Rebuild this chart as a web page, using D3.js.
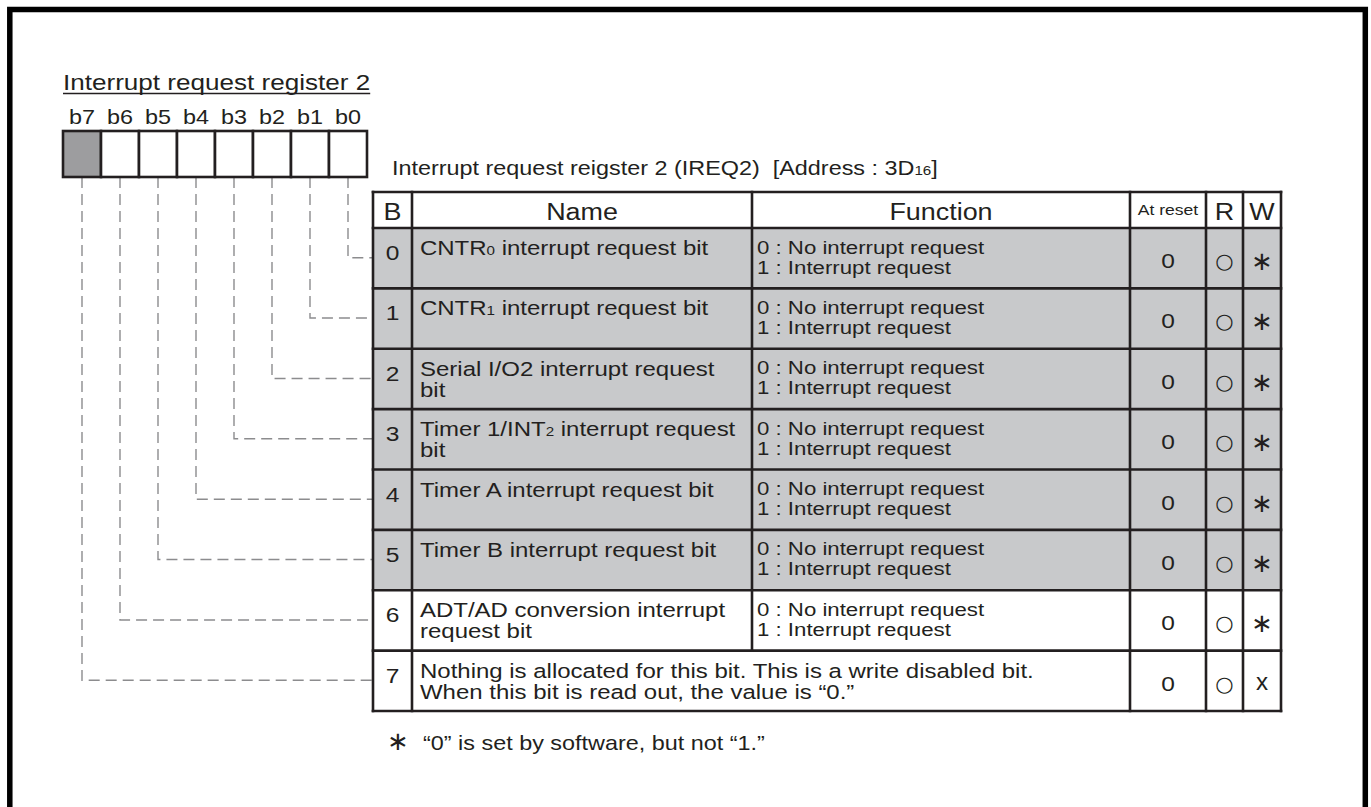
<!DOCTYPE html>
<html>
<head>
<meta charset="utf-8">
<script src="https://cdn.jsdelivr.net/npm/d3@7"></script>
<style>
  html, body { margin: 0; padding: 0; background: #fff; }
  svg { display: block; }
  text { font-family: "Liberation Sans", Arial, sans-serif; fill: #231f20; }
</style>
</head>
<body>
<script>
// ---------------- data ----------------
const registerTitle = "Interrupt request register 2";
const bitLabels = ["b7", "b6", "b5", "b4", "b3", "b2", "b1", "b0"];
const unusedBits = ["b7"];
const tableTitle = "Interrupt request reigster 2 (IREQ2)";
const tableAddress = "[Address : 3D";
const tableAddressSub = "16";
const headers = ["B", "Name", "Function", "At reset", "R", "W"];
const bitNumbers = ["0", "1", "2", "3", "4", "5", "6", "7"];
// name lines: each line is a list of [text, isSubscript]
const names = [
  [[["CNTR", 0], ["0", 1], [" interrupt request bit", 0]]],
  [[["CNTR", 0], ["1", 1], [" interrupt request bit", 0]]],
  [[["Serial I/O2 interrupt request", 0]], [["bit", 0]]],
  [[["Timer 1/INT", 0], ["2", 1], [" interrupt request", 0]], [["bit", 0]]],
  [[["Timer A interrupt request bit", 0]]],
  [[["Timer B interrupt request bit", 0]]],
  [[["ADT/AD conversion interrupt", 0]], [["request bit", 0]]],
  [[["Nothing is allocated for this bit. This is a write disabled bit.", 0]], [["When this bit is read out, the value is \u201c0.\u201d", 0]]]
];
const functions = [
  ["0 : No interrupt request", "1 : Interrupt request"],
  ["0 : No interrupt request", "1 : Interrupt request"],
  ["0 : No interrupt request", "1 : Interrupt request"],
  ["0 : No interrupt request", "1 : Interrupt request"],
  ["0 : No interrupt request", "1 : Interrupt request"],
  ["0 : No interrupt request", "1 : Interrupt request"],
  ["0 : No interrupt request", "1 : Interrupt request"],
  null
];
const atReset = ["0", "0", "0", "0", "0", "0", "0", "0"];
const readMarks = ["\u25cb", "\u25cb", "\u25cb", "\u25cb", "\u25cb", "\u25cb", "\u25cb", "\u25cb"];
const writeMarks = ["\u2217", "\u2217", "\u2217", "\u2217", "\u2217", "\u2217", "\u2217", "x"];
const shadedRows = ["0", "1", "2", "3", "4", "5"];
const footnoteMark = "\u2217";
const footnote = "\u201c0\u201d is set by software, but not \u201c1.\u201d";

// ---------------- layout ----------------
const W = 1371, H = 807;
const ink = "#231f20";
const shade = "#c8c9cb";
const darkShade = "#9d9d9f";
const lineW = 2.6;
const SX = 1.17; // horizontal stretch of the lettering

const svg = d3.select("body").append("svg").attr("width", W).attr("height", H);

function place(sel, x, y, sx) {
  return sel.attr("transform", `translate(${x},${y}) scale(${sx === undefined ? SX : sx},1)`);
}

// outer frame
svg.append("rect").attr("x", 9.8).attr("y", 9.5).attr("width", 1355.5).attr("height", 900)
  .attr("fill", "none").attr("stroke", "#000").attr("stroke-width", 5.5);

// register title (underlined)
const titleText = place(svg.append("text"), 63, 90).attr("font-size", 22.3).text(registerTitle);
const titleLen = titleText.node().getComputedTextLength() * SX;
svg.append("line").attr("x1", 63).attr("x2", 63 + titleLen).attr("y1", 93.5).attr("y2", 93.5)
  .attr("stroke", ink).attr("stroke-width", 1.6);

// register cells
const cellX = d3.scaleBand().domain(bitLabels).range([63, 367]);
const boxTop = 131, boxBottom = 177;
svg.append("g").selectAll("text").data(bitLabels).join("text")
  .attr("font-size", 20).attr("text-anchor", "middle").text(d => d)
  .each(function (d) {
    const w = this.getComputedTextLength() * SX;
    const c = cellX(d) + cellX.bandwidth() / 2;
    place(d3.select(this), Math.max(cellX.range()[0] + w / 2, c), 124);
  });

// table geometry
const colEdges = [373, 412, 752, 1130, 1206, 1243, 1281];
const headerTop = 192, headerBottom = 228, tableBottom = 711;
const rowY = d3.scaleBand().domain(bitNumbers).range([headerBottom, tableBottom]);

// dashed connectors (drawn first)
svg.append("g").selectAll("path").data(bitNumbers).join("path")
  .attr("d", d => {
    const x = cellX("b" + d) + cellX.bandwidth() / 2;
    const y = rowY(d) + rowY.bandwidth() / 2 - 0.5;
    return `M${x},${boxBottom} V${y} H${colEdges[0]}`;
  })
  .attr("fill", "none").attr("stroke", "#8c8c8e").attr("stroke-width", 1.4)
  .attr("stroke-dasharray", "11,6");

svg.append("g").selectAll("rect").data(bitLabels).join("rect")
  .attr("x", d => cellX(d)).attr("y", boxTop).attr("width", cellX.bandwidth()).attr("height", boxBottom - boxTop)
  .attr("fill", d => unusedBits.includes(d) ? darkShade : "#fff")
  .attr("stroke", ink).attr("stroke-width", lineW);

// table title
const tt = place(svg.append("text"), 392, 175).attr("font-size", 20);
tt.append("tspan").text(tableTitle + "\u00a0 " + tableAddress);
tt.append("tspan").attr("font-size", 13).text(tableAddressSub);
tt.append("tspan").text("]");

// row shading
svg.append("g").selectAll("rect").data(bitNumbers).join("rect")
  .attr("x", colEdges[0]).attr("y", d => rowY(d))
  .attr("width", colEdges[6] - colEdges[0]).attr("height", rowY.bandwidth())
  .attr("fill", d => shadedRows.includes(d) ? shade : "#fff");

// headers
const headerSizes = [23, 23, 23, 15, 23, 23];
svg.append("g").selectAll("text").data(headers).join("text")
  .attr("font-size", (d, i) => headerSizes[i])
  .attr("text-anchor", "middle").text(d => d)
  .each(function (d, i) {
    place(d3.select(this), (colEdges[i] + colEdges[i + 1]) / 2, i === 3 ? 215 : 220);
  });

// row contents
const rows = svg.append("g").selectAll("g").data(bitNumbers).join("g")
  .attr("transform", d => `translate(0,${rowY(d)})`);

rows.each(function (d, i) {
  const g = d3.select(this);
  place(g.append("text"), (colEdges[0] + colEdges[1]) / 2, 32)
    .attr("font-size", 21).attr("text-anchor", "middle").text(d);
  names[i].forEach((line, li) => {
    const t = place(g.append("text"), colEdges[1] + 8, 27 + li * 21).attr("font-size", 20.5);
    line.forEach(([s, sub]) => {
      t.append("tspan").attr("font-size", sub ? 13 : 20.5).text(s);
    });
  });
  if (functions[i]) {
    functions[i].forEach((s, li) => {
      place(g.append("text"), colEdges[2] + 5, 25.5 + li * 20).attr("font-size", 19).text(s);
    });
  }
  place(g.append("text"), (colEdges[3] + colEdges[4]) / 2, 40)
    .attr("font-size", 21).attr("text-anchor", "middle").text(atReset[i]);
  g.append("text").attr("x", (colEdges[4] + colEdges[5]) / 2).attr("y", 33)
    .attr("font-size", 21).attr("text-anchor", "middle").attr("dominant-baseline", "central")
    .style("font-family", "DejaVu Sans").text(readMarks[i]);
  if (writeMarks[i] === "x") {
    place(g.append("text"), (colEdges[5] + colEdges[6]) / 2, 39, 1.05)
      .attr("font-size", 23).attr("text-anchor", "middle").text(writeMarks[i]);
  } else {
    g.append("text").attr("x", (colEdges[5] + colEdges[6]) / 2).attr("y", 33)
      .attr("font-size", 26).attr("text-anchor", "middle").attr("dominant-baseline", "central")
      .style("font-family", "DejaVu Sans").text(writeMarks[i]);
  }
});

// table grid lines
const grid = svg.append("g").attr("stroke", ink).attr("stroke-width", lineW).attr("stroke-linecap", "square");
const hLines = [headerTop, headerBottom].concat(bitNumbers.slice(1).map(d => rowY(d))).concat([tableBottom]);
grid.selectAll("line.h").data(hLines).join("line").attr("class", "h")
  .attr("x1", colEdges[0]).attr("x2", colEdges[6]).attr("y1", d => d).attr("y2", d => d);
colEdges.forEach((x, i) => {
  grid.append("line").attr("x1", x).attr("x2", x).attr("y1", headerTop)
    .attr("y2", i === 2 ? rowY("7") : tableBottom);
});

// footnote
svg.append("text").attr("x", 398).attr("y", 741).attr("font-size", 26)
  .attr("text-anchor", "middle").attr("dominant-baseline", "central")
  .style("font-family", "DejaVu Sans").text(footnoteMark);
place(svg.append("text"), 423, 750).attr("font-size", 20).text(footnote);
</script>
</body>
</html>
